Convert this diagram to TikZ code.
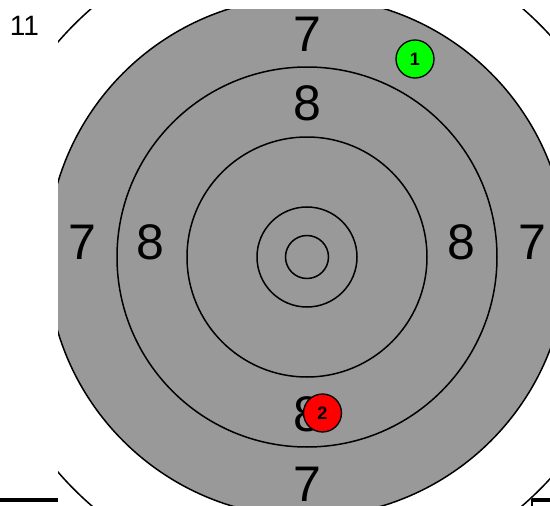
\documentclass[tikz,border=0pt]{standalone}
\usepackage{fontspec}
\setmainfont{Liberation Sans}
\definecolor{targetgray}{RGB}{153,153,153}
\definecolor{hitgreen}{RGB}{0,255,0}
\definecolor{hitred}{RGB}{255,0,0}
\tikzset{
  ring/.style={draw=black, line width=1.5pt},
  bignum/.style={inner sep=0pt, font=\fontsize{50}{60}\selectfont},
  hit/.style={circle, draw=black, line width=1.3pt, minimum size=38pt, inner sep=0pt, font=\bfseries\fontsize{18}{20}\selectfont},
  frameline/.style={draw=black, line width=3.5pt},
}
\begin{document}
\begin{tikzpicture}[x=1pt,y=-1pt]
\useasboundingbox (0,0) rectangle (550,506);
\coordinate (c) at (307,257);
\begin{scope}
  \clip (58,9) rectangle (600,560);
  \fill[targetgray] (c) circle[radius=260pt];
  \draw[ring] (c) circle[radius=260pt];
  \draw[ring] (c) circle[radius=329pt];
\end{scope}
\draw[ring] (c) circle[radius=190pt];
\draw[ring] (c) circle[radius=120pt];
\draw[ring] (c) circle[radius=50pt];
\draw[ring] (c) circle[radius=21.5pt];
\node[bignum] (t7) at (307,34.5) {7};
\node[bignum] (t8) at (307,103.5) {8};
\node[bignum] (l7) at (82,242) {7};
\node[bignum] (l8) at (150,242) {8};
\node[bignum] (r8) at (461,242) {8};
\node[bignum] (r7) at (532,242) {7};
\node[bignum] (b8) at (307.5,414.5) {8};
\node[bignum] (b7) at (307,484.5) {7};
\node[inner sep=0pt, font=\fontsize{28}{32}\selectfont] (lbl) at (24.5,25.5) {11};
\node[hit, fill=hitgreen] (h1) at (415,59) {1};
\node[hit, fill=hitred] (h2) at (322.5,413) {2};
\draw[frameline] (0,500) -- (58,500);
\draw[line width=2.2pt] (532,506) -- (532,500) -- (551,500);
\draw[frameline] (532,500) -- (551,500);
\end{tikzpicture}
\end{document}
